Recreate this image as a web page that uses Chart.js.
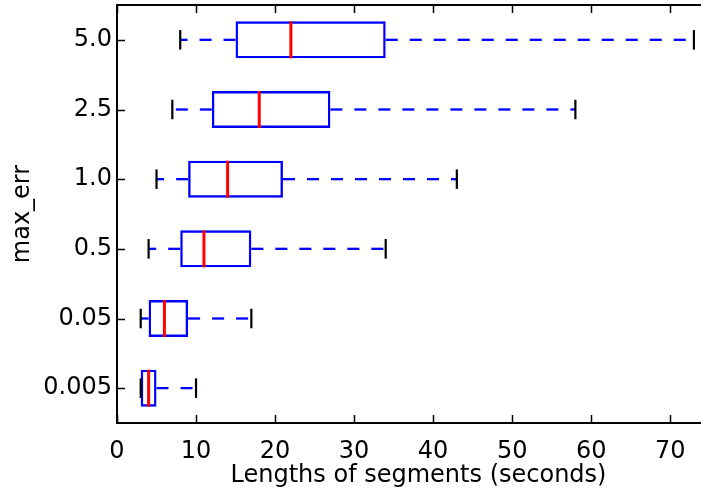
<!DOCTYPE html>
<html>
<head>
<meta charset="utf-8">
<script src="https://cdn.jsdelivr.net/npm/chart.js@4/dist/chart.umd.min.js"></script>
<style>
  html, body { margin: 0; padding: 0; background: #ffffff; overflow: hidden; }
  #wrap { width: 701px; height: 494px; overflow: hidden; }
  #chart { display: block; }
</style>
</head>
<body>
<div id="wrap"><canvas id="chart" width="720" height="494"></canvas></div>
<script>
// Segment-length distributions per max_err setting (seconds)
const categories  = ['0.005', '0.05', '0.5', '1.0', '2.5', '5.0'];
const whiskerLow  = [3, 3, 4, 5, 7, 8];
const q1          = [3, 4, 8, 9, 12, 15];
const medians     = [4, 6, 11, 14, 18, 22];
const q3          = [5, 9, 17, 21, 27, 34];
const whiskerHigh = [10, 17, 34, 43, 58, 73];
const xTickValues = [0, 10, 20, 30, 40, 50, 60, 70];

const FONT = 'DejaVu Sans';
const TICK_LEN = 8;
const BOX_FRACTION = 0.53;

// Whiskers, caps and medians drawn on top of the box bars
const boxExtras = {
  id: 'boxExtras',
  afterDatasetsDraw(chart) {
    const ctx = chart.ctx;
    const xs = chart.scales.x, ys = chart.scales.y;
    const step = Math.abs(ys.getPixelForValue(1) - ys.getPixelForValue(0));
    const boxHalf = step * BOX_FRACTION / 2;
    const capHalf = step * 0.14;
    ctx.save();
    categories.forEach((c, i) => {
      const y = ys.getPixelForValue(i);
      // dashed whiskers, drawn outward from the box edges
      ctx.strokeStyle = '#0000ff';
      ctx.lineWidth = 2.3;
      ctx.setLineDash([12, 12]);
      ctx.beginPath();
      ctx.moveTo(xs.getPixelForValue(q1[i]), y);
      ctx.lineTo(xs.getPixelForValue(whiskerLow[i]), y);
      ctx.stroke();
      ctx.beginPath();
      ctx.moveTo(xs.getPixelForValue(q3[i]), y);
      ctx.lineTo(xs.getPixelForValue(whiskerHigh[i]), y);
      ctx.stroke();
      ctx.setLineDash([]);
      // caps
      ctx.strokeStyle = '#000000';
      ctx.lineWidth = 2.2;
      [whiskerLow[i], whiskerHigh[i]].forEach(v => {
        const x = xs.getPixelForValue(v);
        ctx.beginPath();
        ctx.moveTo(x, y - capHalf);
        ctx.lineTo(x, y + capHalf);
        ctx.stroke();
      });
      // median
      ctx.strokeStyle = '#ff0000';
      ctx.lineWidth = 3;
      const mx = xs.getPixelForValue(medians[i]);
      ctx.beginPath();
      ctx.moveTo(mx, y - boxHalf);
      ctx.lineTo(mx, y + boxHalf);
      ctx.stroke();
    });
    ctx.restore();
  }
};

// Axes frame with inward-pointing tick marks
const frameTicks = {
  id: 'frameTicks',
  afterDraw(chart) {
    const ctx = chart.ctx;
    const a = chart.chartArea;
    const xs = chart.scales.x, ys = chart.scales.y;
    ctx.save();
    ctx.strokeStyle = '#000000';
    ctx.lineWidth = 1.5;
    xTickValues.forEach(v => {
      const x = Math.round(xs.getPixelForValue(v)) + 0.5;
      ctx.beginPath();
      ctx.moveTo(x, a.bottom); ctx.lineTo(x, a.bottom - TICK_LEN);
      ctx.moveTo(x, a.top); ctx.lineTo(x, a.top + TICK_LEN);
      ctx.stroke();
    });
    categories.forEach((c, i) => {
      const y = Math.round(ys.getPixelForValue(i)) + 0.5;
      ctx.beginPath();
      ctx.moveTo(a.left, y); ctx.lineTo(a.left + TICK_LEN, y);
      ctx.moveTo(a.right, y); ctx.lineTo(a.right - TICK_LEN, y);
      ctx.stroke();
    });
    ctx.lineWidth = 2;
    ctx.strokeRect(a.left, a.top, a.right - a.left, a.bottom - a.top);
    ctx.restore();
  }
};

new Chart(document.getElementById('chart'), {
  type: 'bar',
  data: {
    labels: categories,
    datasets: [{
      data: q1.map((v, i) => [v, q3[i]]),
      backgroundColor: 'rgba(255,255,255,0)',
      borderColor: '#0000ff',
      borderWidth: 2.4,
      borderSkipped: false,
      inflateAmount: 0,
      barPercentage: BOX_FRACTION,
      categoryPercentage: 1.0
    }]
  },
  options: {
    indexAxis: 'y',
    responsive: false,
    animation: false,
    devicePixelRatio: 1,
    layout: { padding: { top: 5, right: 0, left: 0, bottom: 0 } },
    plugins: { legend: { display: false }, tooltip: { enabled: false } },
    scales: {
      x: {
        type: 'linear',
        position: 'bottom',
        min: 0,
        max: 76.3,
        afterBuildTicks: s => { s.ticks = xTickValues.map(v => ({ value: v })); },
        afterFit: s => { s.height = 71; s.paddingRight = 0; },
        grid: { display: false, drawTicks: false },
        border: { display: false },
        ticks: {
          autoSkip: false, maxRotation: 0,
          color: '#000000', padding: 14,
          font: { family: FONT, size: 24 }
        },
        title: {
          display: true,
          text: 'Lengths of segments (seconds)',
          color: '#000000',
          font: { family: FONT, size: 24, lineHeight: 1 },
          padding: { top: 0, bottom: 6 }
        }
      },
      y: {
        type: 'category',
        reverse: true,
        offset: true,
        afterFit: s => { s.width = 117; s.paddingTop = 0; s.paddingBottom = 0; },
        grid: { display: false, drawTicks: false },
        border: { display: false },
        ticks: {
          autoSkip: false,
          color: '#000000', padding: 5,
          font: { family: FONT, size: 24 }
        },
        title: {
          display: true,
          text: 'max_err',
          color: '#000000',
          font: { family: FONT, size: 24, lineHeight: 1 },
          padding: { top: 11, bottom: 0 }
        }
      }
    }
  },
  plugins: [boxExtras, frameTicks]
});
</script>
</body>
</html>
